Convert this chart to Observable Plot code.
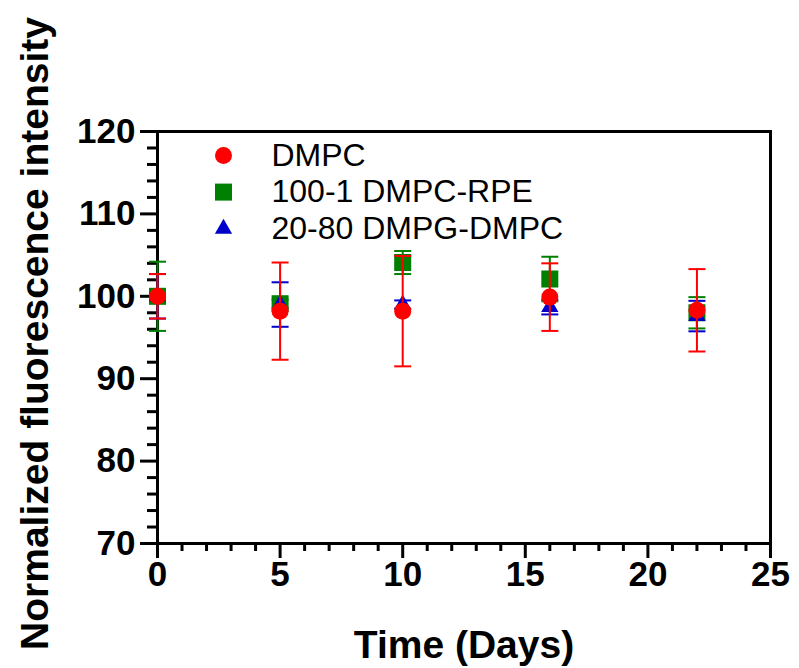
<!DOCTYPE html>
<html>
<head>
<meta charset="utf-8">
<script src="https://cdn.jsdelivr.net/npm/d3@7"></script>
<script src="https://cdn.jsdelivr.net/npm/@observablehq/plot@0.6"></script>
<style>
  html, body { margin: 0; padding: 0; background: white; }
  #chart { width: 799px; height: 668px; }
</style>
</head>
<body>
<div id="chart"></div>
<script>
// ---- data ----
const days = [0, 5, 10, 16, 22];
const seriesNames = ["DMPC", "100-1 DMPC-RPE", "20-80 DMPG-DMPC"];
const dmpcMean = [100.0, 98.2, 98.2, 99.9, 98.3];
const dmpcErr  = [2.7, 5.9, 6.7, 4.1, 5.0];
const rpeMean  = [100.0, 99.1, 104.1, 102.1, 98.0];
const rpeErr   = [4.2, 0.5, 1.4, 2.7, 1.9];
const dmpgMean = [100.0, 99.0, 99.0, 98.7, 97.6];
const dmpgErr  = [2.7, 2.7, 0.5, 0.9, 1.85];
const xTicks = [0, 5, 10, 15, 20, 25];
const yTicks = [70, 80, 90, 100, 110, 120];
const xLabel = "Time (Days)";
const yLabel = "Normalized fluorescence intensity";

// ---- styling ----
const FONT = "Liberation Sans, Arial, sans-serif";
const series = [
  {name: seriesNames[0], color: "#ff0000", symbol: "circle",   r: 8.5, mean: dmpcMean, err: dmpcErr},
  {name: seriesNames[1], color: "#008000", symbol: "square",   r: 9.6, mean: rpeMean,  err: rpeErr},
  {name: seriesNames[2], color: "#0000cc", symbol: "triangle", r: 6.4, mean: dmpgMean, err: dmpgErr}
];
const rows = series.map(s => days.map((d, i) => ({day: d, mean: s.mean[i], lo: s.mean[i] - s.err[i], hi: s.mean[i] + s.err[i]})));

const capSymbol = {
  draw(ctx, size) {
    const r = Math.sqrt(size / Math.PI);
    ctx.moveTo(-r, 0);
    ctx.lineTo(r, 0);
  }
};

// drawing order: green, blue, red (red on top)
const drawOrder = [1, 2, 0];
const dataMarks = drawOrder.flatMap(k => {
  const s = series[k], data = rows[k];
  return [
    Plot.ruleX(data, {x: "day", y1: "lo", y2: "hi", stroke: s.color, strokeWidth: 2}),
    Plot.dot(data, {x: "day", y: "hi", symbol: capSymbol, r: 8.5, stroke: s.color, strokeWidth: 2, fill: "none"}),
    Plot.dot(data, {x: "day", y: "lo", symbol: capSymbol, r: 8.5, stroke: s.color, strokeWidth: 2, fill: "none"}),
    Plot.dot(data, {x: "day", y: "mean", symbol: s.symbol, r: s.r, fill: s.color, stroke: "none"})
  ];
});

const legendMarks = series.flatMap((s, k) => [
  Plot.dot([s], {frameAnchor: "top-left", dx: 66, dy: 24 + k * 36.6, symbol: s.symbol, r: s.r, fill: s.color, stroke: "none"}),
  Plot.text([s], {frameAnchor: "top-left", dx: 114, dy: 24 + k * 36.6, text: d => d.name, textAnchor: "start", lineAnchor: "middle", fontSize: 32, fontFamily: FONT, fill: "black"})
]);

const chart = Plot.plot({
  width: 799,
  height: 668,
  marginLeft: 157,
  marginRight: 29,
  marginTop: 131,
  marginBottom: 125,
  style: {fontFamily: FONT, background: "white", color: "black"},
  x: {domain: [0, 25]},
  y: {domain: [70, 120]},
  marks: [
    Plot.axisX({ticks: d3.range(0, 26, 1).filter(v => v % 5 !== 0), tickSize: 8, fill: "none", strokeWidth: 3, label: null}),
    Plot.axisX({ticks: xTicks, tickSize: 15, tickPadding: 3, strokeWidth: 3, fontSize: 35, fontWeight: "bold", fontFamily: FONT, label: null}),
    Plot.axisY({ticks: d3.range(70, 121, 2).filter(v => v % 10 !== 0), tickSize: 10, fill: "none", strokeWidth: 3, label: null}),
    Plot.axisY({ticks: yTicks, tickSize: 17, tickPadding: 5, strokeWidth: 3, fontSize: 35, fontWeight: "bold", fontFamily: FONT, label: null}),
    Plot.frame({strokeWidth: 3}),
    Plot.text([xLabel], {frameAnchor: "bottom", dy: 114, text: d => d, textAnchor: "middle", lineAnchor: "bottom", fontSize: 39, fontWeight: "bold", fontFamily: FONT, fill: "black"}),
    Plot.text([yLabel], {frameAnchor: "left", dx: -110, dy: -4, rotate: -90, text: d => d, textAnchor: "middle", lineAnchor: "bottom", fontSize: 39, fontWeight: "bold", fontFamily: FONT, fill: "black"}),
    ...dataMarks,
    ...legendMarks
  ]
});
document.getElementById("chart").append(chart);
</script>
</body>
</html>
